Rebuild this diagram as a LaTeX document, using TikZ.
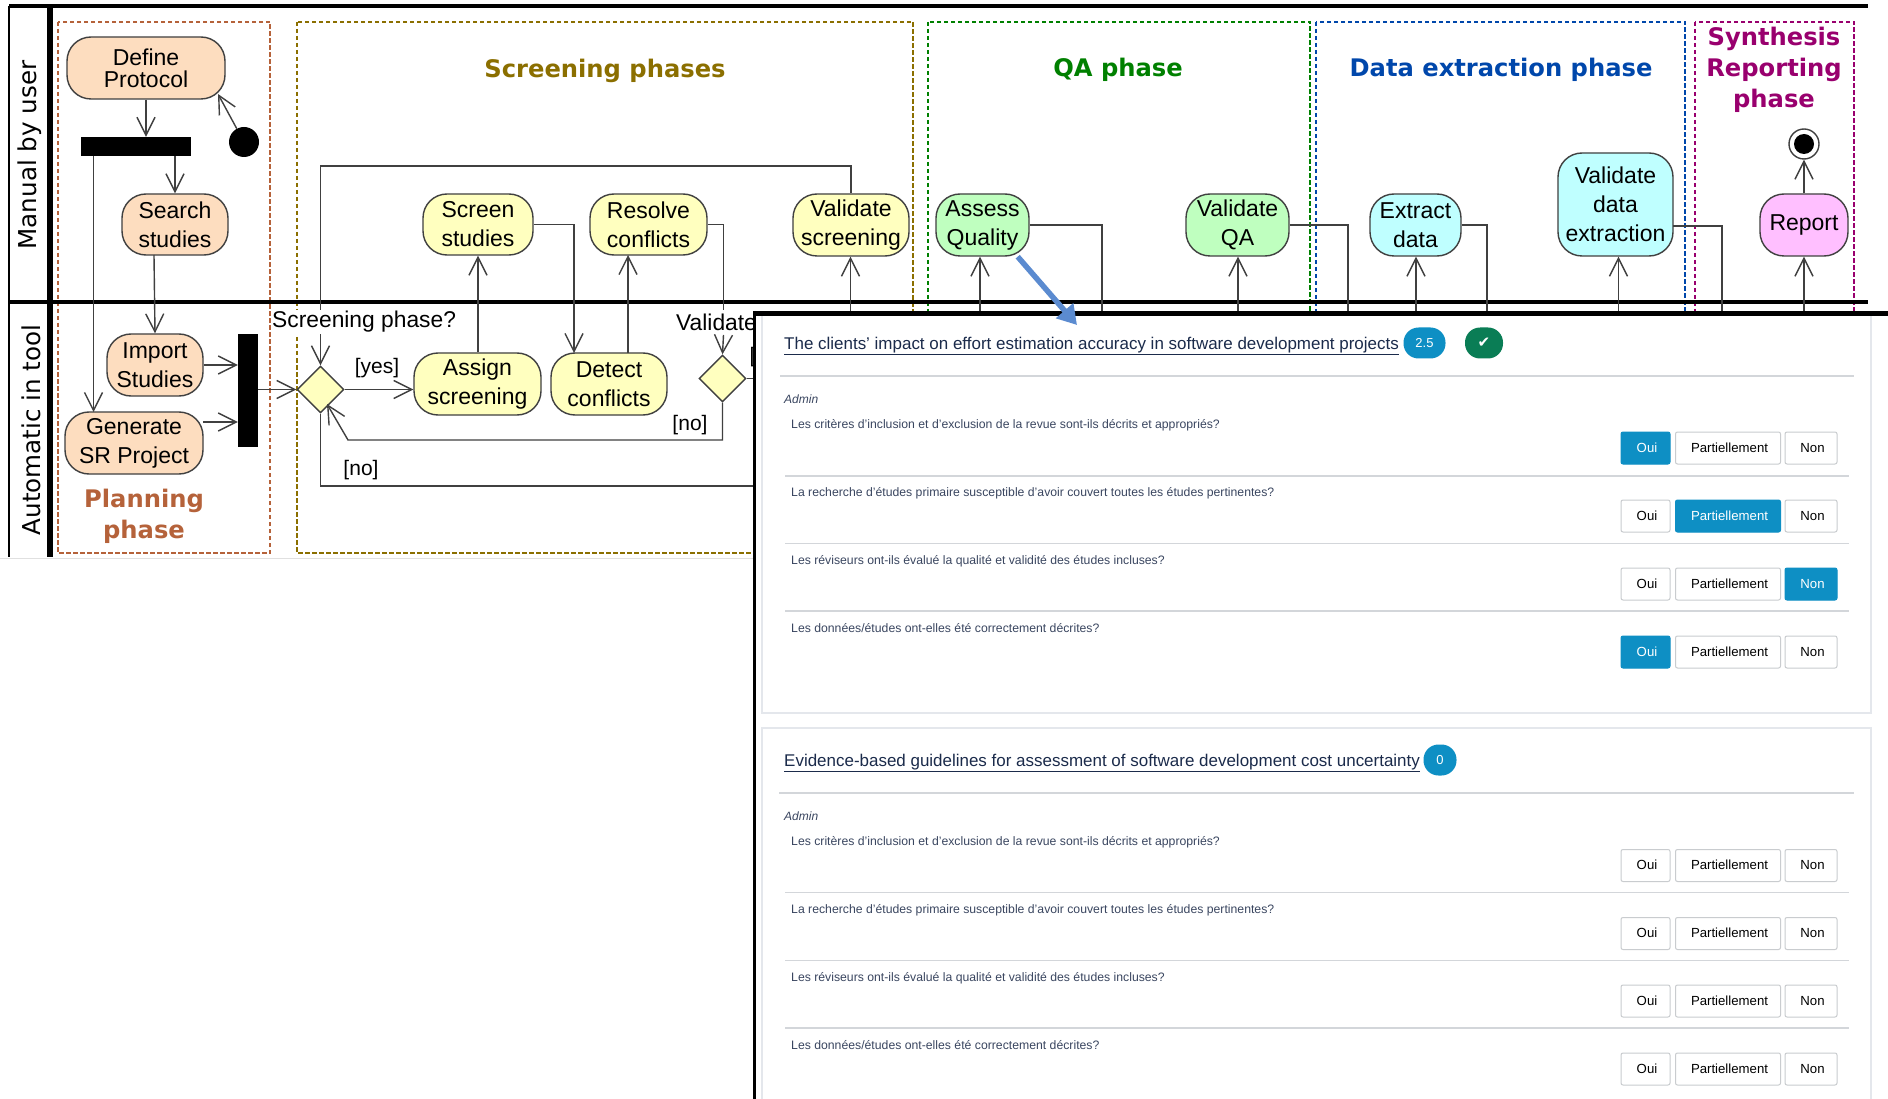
\documentclass[tikz,border=0pt]{standalone}
\usepackage{fontspec}
\setmainfont{Liberation Sans}
\newfontfamily\dv{DejaVu Sans}
\usetikzlibrary{arrows.meta,shapes.geometric,calc}
\definecolor{flowc}{HTML}{404040}
\definecolor{plan}{HTML}{B5623A}
\definecolor{scr}{HTML}{8B6F00}
\definecolor{qa}{HTML}{008000}
\definecolor{dex}{HTML}{0047AB}
\definecolor{syn}{HTML}{99006E}
\definecolor{fplan}{HTML}{FDDDBF}
\definecolor{fscr}{HTML}{FFFFBF}
\definecolor{fqa}{HTML}{BFFFBF}
\definecolor{fdex}{HTML}{BFFFFF}
\definecolor{fsyn}{HTML}{FFBFFF}
\definecolor{badge}{HTML}{0E8FC4}
\definecolor{okc}{HTML}{0A7D55}
\definecolor{navy}{HTML}{1B2B4B}
\definecolor{qtxt}{HTML}{3A4660}
\definecolor{sep}{HTML}{D3D6DA}
\definecolor{cardb}{HTML}{E4E7EC}
\definecolor{bord}{HTML}{C9CCCF}
\definecolor{bluearrow}{HTML}{5B8BD0}
\newcommand{\bt}[1]{\hspace*{3pt}#1}
\tikzset{
  x=1pt,y=-1pt,
  act/.style={draw=flowc,line width=1.4pt,rounded corners=24pt,inner sep=0pt,align=center,font=\fontsize{23}{29}\selectfont},
  flow/.style={draw=flowc,line width=1.4pt,-{Straight Barb[length=18pt,width=18pt,line width=1.4pt]}},
  plain/.style={draw=flowc,line width=1.4pt},
  bar/.style={fill=black,draw=none,inner sep=0pt},
  decide/.style={diamond,draw=flowc,line width=1.4pt,fill=fscr,inner sep=0pt,minimum width=47pt,minimum height=47pt},
  zone/.style={dash pattern=on 4.5pt off 2.5pt,line width=2.6pt},
  phase/.style={font=\dv\bfseries\fontsize{24.2}{31}\selectfont,align=center},
  lane/.style={rotate=90,font=\dv\fontsize{24.6}{28}\selectfont},
  guard/.style={font=\fontsize{21}{24}\selectfont,inner sep=0pt},
  ask/.style={font=\fontsize{22.8}{26}\selectfont,fill=white,inner sep=1pt},
  ctitle/.style={anchor=west,inner sep=0pt,text=navy,font=\fontsize{16.97}{20}\selectfont},
  admin/.style={anchor=west,inner sep=0pt,text=qtxt,font=\itshape\fontsize{12}{14}\selectfont},
  qtext/.style={anchor=west,inner sep=0pt,text=qtxt,font=\fontsize{12.24}{14}\selectfont},
  btn/.style={draw=bord,line width=1pt,rounded corners=2pt,fill=white,text=black,inner sep=0pt,minimum height=32pt,text height=9.5pt,text depth=1.5pt,font=\fontsize{13.2}{15}\selectfont},
  on/.style={draw=badge,fill=badge,text=white},
  oui/.style={btn,minimum width=49pt},
  par/.style={btn,minimum width=105pt},
  non/.style={btn,minimum width=52pt},
  pill/.style={draw=none,fill=badge,text=white,rounded corners=15pt,inner sep=0pt,minimum height=31pt,font=\fontsize{13}{15}\selectfont},
}
\begin{document}
\begin{tikzpicture}
\useasboundingbox (0,0) rectangle (1888,1099);
\fill[white] (0,0) rectangle (1888,1099);
% zones
\draw[zone,plan] (58,22) rectangle (270,553);
\draw[zone,scr] (297,22) rectangle (913,553);
\draw[zone,qa] (928,22) rectangle (1310,553);
\draw[zone,dex] (1316,22) rectangle (1685,553);
\draw[zone,syn] (1695,22) rectangle (1854,553);
% swimlanes
\draw[black,line width=4pt] (9,6) -- (1868,6);
\draw[black,line width=4pt] (9,302) -- (1868,302);
\draw[black,line width=6pt] (50,6) -- (50,557);
\draw[black,line width=2pt] (9,6) -- (9,557);
\draw[black!12,line width=1pt] (0,558) -- (755,558);
\node[lane] (lmanual) at (30,155) {Manual by user};
\node[lane] (lauto) at (31,430) {Automatic in tool};
% phase titles
\node[phase,text=scr] (tscr) at (605,70.5) {Screening phases};
\node[phase,text=qa] (tqa) at (1118,70) {QA phase};
\node[phase,text=dex] (tdex) at (1501,70) {Data extraction phase};
\node[phase,text=syn] (tsyn) at (1774,70) {Synthesis\\Reporting\\phase};
\node[phase,text=plan] (tplan) at (144,516) {Planning\\phase};
% planning nodes
\node[act,fill=fplan,minimum width=158pt,minimum height=62pt,font=\fontsize{23}{22}\selectfont] (define) at (146,68) {Define\\Protocol};
\node[bar,minimum width=110pt,minimum height=19pt] (fork) at (136,146.5) {};
\node[circle,fill=black,inner sep=0pt,minimum size=30pt] (start) at (244,142) {};
\node[act,fill=fplan,minimum width=106pt,minimum height=61pt] (search) at (175,224.5) {Search\\studies};
\node[act,fill=fplan,minimum width=96pt,minimum height=62pt] (import) at (155,365) {Import\\Studies};
\node[act,fill=fplan,minimum width=138pt,minimum height=62pt] (generate) at (134,443) {Generate\\SR Project};
\node[bar,minimum width=20pt,minimum height=113pt] (join) at (248,390.5) {};
% screening nodes
\node[act,fill=fscr,minimum width=110pt,minimum height=61pt] (screen) at (478,224.5) {Screen\\studies};
\node[act,fill=fscr,minimum width=117pt,minimum height=61pt] (resolve) at (648.5,224.5) {Resolve\\conflicts};
\node[act,fill=fscr,minimum width=116pt,minimum height=62pt] (valscr) at (851,225) {Validate\\screening};
\node[act,fill=fscr,minimum width=127pt,minimum height=62pt] (assign) at (477.5,384) {Assign\\screening};
\node[act,fill=fscr,minimum width=116pt,minimum height=62pt] (detect) at (609,384) {Detect\\conflicts};
\node[decide] (dec1) at (320.5,389.5) {};
\node[decide] (dec2) at (722.5,378.5) {};
% QA, extraction, report nodes
\node[act,fill=fqa,minimum width=93pt,minimum height=62pt] (assess) at (982.5,225) {Assess\\Quality};
\node[act,fill=fqa,minimum width=103pt,minimum height=62pt] (valqa) at (1237.5,225) {Validate\\QA};
\node[act,fill=fdex,minimum width=91pt,minimum height=62pt] (extract) at (1415.5,225) {Extract\\data};
\node[act,fill=fdex,minimum width=115pt,minimum height=103pt] (valdex) at (1615.5,204.5) {Validate\\data\\extraction};
\node[act,fill=fsyn,minimum width=88pt,minimum height=62pt] (report) at (1804,225) {Report};
\node[circle,draw=flowc,line width=1.4pt,fill=white,inner sep=0pt,minimum size=30pt] (stop) at (1804,144) {};
\node[circle,fill=black,inner sep=0pt,minimum size=20pt] (stopin) at (stop.center) {};
% free ends, under the panel
\coordinate (d2out) at (760,378.5);
\coordinate (noout) at (760,486);
\coordinate (uvs) at (850.5,320);
\coordinate (uassess) at (980,320);
\coordinate (uvalqa) at (1238,320);
\coordinate (uextract) at (1416,320);
\coordinate (uvaldex) at (1618.5,320);
\coordinate (ureport) at (1804,320);
\coordinate (tophead) at (320.5,166);
% connectors, planning
\draw[flow] (start) -- (218,94);
\draw[flow] (define.south) -- (define.south |- fork.north);
\draw[flow] (fork.south -| search.north) -- (search.north);
\draw[flow] ([xshift=-42.5pt]fork.south) -- (93.5,412);
\draw[flow] (154,255) -- (import.north);
\draw[flow] (import.east) -- (join.west |- import.east);
\draw[flow] (203,422) -- (join.west |- 203,422);
\draw[flow] (join.east |- dec1.west) -- (dec1.west);
\draw[flow] (dec1.east) -- (assign.west |- dec1.east);
% connectors, screening
\draw[flow] (assign.north -| screen.south) -- (screen.south);
\draw[flow] (screen.east) -- (574,224.5) -- (574,353);
\draw[flow] (628,353) -- (628,255);
\draw[plain] (resolve.east) -- (723.5,224.5) -- (723.5,310);
\draw[flow] (valscr.north) -- (valscr.north |- tophead) -- (tophead) -- (dec1.north);
\draw[plain] (dec2.east) -- (d2out);
\draw[flow] (dec2.south) -- (722.5,440) -- (348,440) -- (327,404);
\draw[plain] (noout) -- (320.5,486) -- (dec1.south);
% text with white ground over lines
\node[ask,anchor=west] (askscr) at (271,322) {Screening phase?};
\node[ask,anchor=west] (askval) at (675,322) {Validate};
\draw[flow] (723.5,335) -- (dec2.north);
\node[guard] (gyes) at (377,368) {[yes]};
\node[guard] (gno1) at (690,425) {[no]};
\node[guard] (gno2) at (361,470) {[no]};
\node[guard,anchor=west] (gyes2) at (749.5,357) {[yes]};
% connectors, right part
\draw[flow] (uvs) -- (valscr.south -| uvs);
\draw[flow] (uassess) -- (assess.south -| uassess);
\draw[plain] (assess.east) -- (1102,225) -- (1102,320);
\draw[flow] (uvalqa) -- (valqa.south -| uvalqa);
\draw[plain] (valqa.east) -- (1348,225) -- (1348,320);
\draw[flow] (uextract) -- (extract.south -| uextract);
\draw[plain] (extract.east) -- (1487,225) -- (1487,320);
\draw[flow] (uvaldex) -- (valdex.south -| uvaldex);
\draw[plain] (1673,226) -- (1722,226) -- (1722,320);
\draw[flow] (ureport) -- (report.south);
\draw[flow] (report.north) -- (stop.south);
% panel
\fill[white] (754.5,313) rectangle (1888,1099);
\draw[cardb,line width=1.2pt] (762,313) -- (762,713) -- (1871,713) -- (1871,313);
\draw[cardb,line width=1.5pt] (762,1099) -- (762,728) -- (1871,728) -- (1871,1099);
\draw[black,line width=5pt] (754.5,313.5) -- (1888,313.5);
\draw[black,line width=3.5pt] (754.5,311) -- (754.5,1099);
% card 1
\node[ctitle] (t1) at (784,346) {\underline{The clients’ impact on effort estimation accuracy in software development projects}};
\node[pill,minimum width=42pt] (b1) at (1424.5,343) {2.5};
\node[pill,fill=okc,minimum width=38pt,font=\dv\fontsize{15}{17}\selectfont] (ok) at (1484,343) {✔};
\draw[sep,line width=1.3pt] (780,376) -- (1854,376);
\node[admin] (a1) at (784,399) {Admin};
\node[qtext] (q11) at (791,425) {Les critères d'inclusion et d'exclusion de la revue sont-ils décrits et appropriés?};
\node[oui,on] (o11) at (1645.5,448) {\bt{Oui}};
\node[par] (p11) at (1728,448) {\bt{Partiellement}};
\node[non] (n11) at (1811,448) {\bt{Non}};
\draw[sep,line width=1.2pt] (785,476) -- (1849,476);
\node[qtext] (q12) at (791,493) {La recherche d'études primaire susceptible d'avoir couvert toutes les études pertinentes?};
\node[oui] (o12) at (1645.5,516) {\bt{Oui}};
\node[par,on] (p12) at (1728,516) {\bt{Partiellement}};
\node[non] (n12) at (1811,516) {\bt{Non}};
\draw[sep,line width=1.2pt] (785,543.5) -- (1849,543.5);
\node[qtext] (q13) at (791,561) {Les réviseurs ont-ils évalué la qualité et validité des études incluses?};
\node[oui] (o13) at (1645.5,584) {\bt{Oui}};
\node[par] (p13) at (1728,584) {\bt{Partiellement}};
\node[non,on] (n13) at (1811,584) {\bt{Non}};
\draw[sep,line width=1.2pt] (785,611) -- (1849,611);
\node[qtext] (q14) at (791,628) {Les données/études ont-elles été correctement décrites?};
\node[oui,on] (o14) at (1645.5,652) {\bt{Oui}};
\node[par] (p14) at (1728,652) {\bt{Partiellement}};
\node[non] (n14) at (1811,652) {\bt{Non}};
% card 2
\node[ctitle] (t2) at (784,763) {\underline{Evidence-based guidelines for assessment of software development cost uncertainty}};
\node[pill,minimum width=33pt] (b2) at (1440,760) {0};
\draw[sep,line width=1.3pt] (779,793) -- (1854,793);
\node[admin] (a2) at (784,816) {Admin};
\node[qtext] (q21) at (791,842) {Les critères d'inclusion et d'exclusion de la revue sont-ils décrits et appropriés?};
\node[oui] (o21) at (1645.5,865.5) {\bt{Oui}};
\node[par] (p21) at (1728,865.5) {\bt{Partiellement}};
\node[non] (n21) at (1811,865.5) {\bt{Non}};
\draw[sep,line width=1.2pt] (785,892.5) -- (1849,892.5);
\node[qtext] (q22) at (791,910) {La recherche d'études primaire susceptible d'avoir couvert toutes les études pertinentes?};
\node[oui] (o22) at (1645.5,933.5) {\bt{Oui}};
\node[par] (p22) at (1728,933.5) {\bt{Partiellement}};
\node[non] (n22) at (1811,933.5) {\bt{Non}};
\draw[sep,line width=1.2pt] (785,960.5) -- (1849,960.5);
\node[qtext] (q23) at (791,978) {Les réviseurs ont-ils évalué la qualité et validité des études incluses?};
\node[oui] (o23) at (1645.5,1001) {\bt{Oui}};
\node[par] (p23) at (1728,1001) {\bt{Partiellement}};
\node[non] (n23) at (1811,1001) {\bt{Non}};
\draw[sep,line width=1.2pt] (785,1028) -- (1849,1028);
\node[qtext] (q24) at (791,1045) {Les données/études ont-elles été correctement décrites?};
\node[oui] (o24) at (1645.5,1069) {\bt{Oui}};
\node[par] (p24) at (1728,1069) {\bt{Partiellement}};
\node[non] (n24) at (1811,1069) {\bt{Non}};
% blue pointer
\coordinate (ptr) at (1077,325);
\draw[bluearrow,line width=5.5pt,-{Triangle[length=19pt,width=22pt]}] (assess.south east) ++(-12,0) -- (ptr);
\end{tikzpicture}
\end{document}
